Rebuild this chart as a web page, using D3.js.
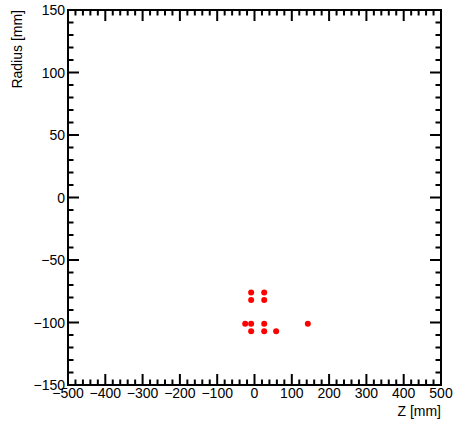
<!DOCTYPE html>
<html><head><meta charset="utf-8">
<script src="https://cdn.jsdelivr.net/npm/d3@7"></script>
<style>body{margin:0;background:#fff}text{font-family:"Liberation Sans",Arial,sans-serif}</style>
</head><body>
<svg id="c" width="457" height="421"></svg>
<script>
const zValues = [-9, 26, -9, 26, -25, -9, 26, 143, -9, 26, 58];
const rValues = [-76, -76, -82, -82, -101, -101, -101, -101, -107, -107, -107];
const xTicks = [-500,-400,-300,-200,-100,0,100,200,300,400,500];
const yTicks = [-150,-100,-50,0,50,100,150];
const xLabel = "Z [mm]";
const yLabel = "Radius [mm]";

const svg = d3.select("#c");
const L=68, R=441, T=10, B=385;
const x = d3.scaleLinear().domain([-500,500]).range([L,R]);
const y = d3.scaleLinear().domain([-150,150]).range([B,T]);
const fmt = v => v<0 ? "\u2212"+Math.abs(v) : String(v);

const g = svg.append("g");
// minor ticks
const xMinor = d3.range(-500,501,20);
const yMinor = d3.range(-150,151,10);
const tk = g.append("g").attr("stroke","#000").attr("stroke-width",2);
xMinor.forEach(v=>{
  const major = v%100===0;
  const len = major?11:5.5;
  tk.append("line").attr("x1",x(v)).attr("x2",x(v)).attr("y1",B).attr("y2",B-len);
  tk.append("line").attr("x1",x(v)).attr("x2",x(v)).attr("y1",T).attr("y2",T+len);
});
yMinor.forEach(v=>{
  const major = v%50===0;
  const len = major?11:5.5;
  tk.append("line").attr("y1",y(v)).attr("y2",y(v)).attr("x1",L).attr("x2",L+len);
  tk.append("line").attr("y1",y(v)).attr("y2",y(v)).attr("x1",R).attr("x2",R-len);
});
g.append("rect").attr("x",L).attr("y",T).attr("width",R-L).attr("height",B-T)
  .attr("fill","none").attr("stroke","#000").attr("stroke-width",2);

// tick labels
g.selectAll(".xl").data(xTicks).enter().append("text")
  .attr("x",d=>x(d)).attr("y",B+13).attr("text-anchor","middle")
  .attr("font-size",14).text(fmt);
g.selectAll(".yl").data(yTicks).enter().append("text")
  .attr("x",L-3).attr("y",d=>y(d)+5).attr("text-anchor","end")
  .attr("font-size",14).text(fmt);

svg.append("text").attr("x",R).attr("y",416).attr("text-anchor","end")
  .attr("font-size",14).text(xLabel);
svg.append("text").attr("transform",`translate(22,${T}) rotate(-90)`)
  .attr("text-anchor","end").attr("font-size",14).text(yLabel);

// points
svg.append("g").selectAll("circle").data(zValues.map((z,i)=>({z,r:rValues[i]})))
  .enter().append("circle")
  .attr("cx",d=>x(d.z)).attr("cy",d=>y(d.r)).attr("r",3).attr("fill","#ff0000");
</script>
</body></html>
